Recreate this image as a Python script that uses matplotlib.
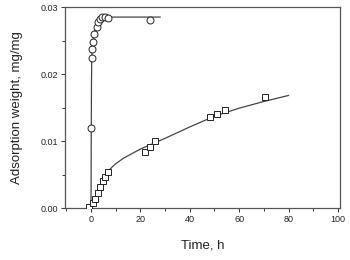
import matplotlib
matplotlib.use("Agg")
import matplotlib.pyplot as plt
from matplotlib.ticker import MultipleLocator

plt.rcParams['font.family'] = ['Liberation Sans', 'DejaVu Sans']

# Circle series (fast adsorption)
circ_t = [0.0, 0.3, 0.5, 0.9, 1.3, 2.3, 3.0, 3.6, 4.6, 5.7, 7.0, 23.9]
circ_q = [0.0120, 0.0224, 0.0238, 0.0248, 0.0259, 0.0270, 0.0277, 0.0282, 0.0285, 0.0285, 0.0284, 0.0281]
# Fitted line for circles
circ_fit_t = [0.0, 0.05, 0.1, 0.2, 0.3, 0.6, 1.0, 1.5, 2.0, 3.0, 4.0, 5.0, 7.0, 10.0, 28.0]
circ_fit_q = [0.0, 0.0060, 0.0115, 0.0190, 0.0225, 0.0245, 0.0256, 0.0265, 0.0272, 0.0279, 0.0282, 0.0284, 0.0285, 0.0285, 0.0285]

# Square series (slow adsorption)
sq_t = [-0.7, 0.7, 1.6, 2.7, 3.6, 4.7, 5.7, 6.8, 21.9, 23.9, 25.9, 48.2, 51.1, 54.3, 70.4]
sq_q = [0.0001, 0.0008, 0.0014, 0.0023, 0.0031, 0.0040, 0.0046, 0.0053, 0.0084, 0.0091, 0.0100, 0.0136, 0.0141, 0.0146, 0.0165]
# Fitted line for squares
sq_fit_t = [0.0, 1.0, 2.0, 3.0, 4.0, 5.0, 6.0, 7.0, 8.5, 10.0, 13.0, 16.0, 20.0, 25.0, 30.0, 40.0, 50.0, 60.0, 70.0, 80.0]
sq_fit_q = [0.0, 0.0010, 0.0019, 0.0028, 0.0036, 0.0043, 0.0050, 0.0055, 0.0061, 0.0066, 0.0074, 0.0080, 0.0088, 0.0096, 0.0104, 0.0121, 0.0137, 0.0149, 0.0159, 0.0168]

fig = plt.figure(figsize=(3.5, 2.6), dpi=100)
ax = fig.add_axes([0.186, 0.2, 0.785, 0.773])

lc = '#444444'
ax.plot(circ_fit_t, circ_fit_q, color=lc, lw=0.9, zorder=2)
ax.plot(sq_fit_t, sq_fit_q, color=lc, lw=0.9, zorder=2)
ax.plot(circ_t, circ_q, ls='none', marker='o', ms=5, mfc='white', mec='#222222', mew=0.7, zorder=3)
ax.plot(sq_t, sq_q, ls='none', marker='s', ms=5, mfc='white', mec='#222222', mew=0.7, zorder=3)

ax.set_xlim(-10.5, 100.8)
ax.set_ylim(0, 0.03)
ax.xaxis.set_major_locator(MultipleLocator(20))
ax.xaxis.set_minor_locator(MultipleLocator(10))
ax.yaxis.set_major_locator(MultipleLocator(0.01))
ax.yaxis.set_minor_locator(MultipleLocator(0.005))
ax.yaxis.set_major_formatter(matplotlib.ticker.FormatStrFormatter('%.2f'))

for s in ax.spines.values():
    s.set_color('#555555')
    s.set_linewidth(0.9)
ax.tick_params(which='both', direction='out', color='#333333', width=0.7,
               labelsize=6.5, labelcolor='#222222', top=False, right=False)
ax.tick_params(which='major', length=3, pad=2)
ax.tick_params(which='minor', length=2)

ax.set_xlabel('Time, h', fontsize=9.5, color='#222222', labelpad=11)
ax.set_ylabel('Adsorption weight, mg/mg', fontsize=9.5, color='#222222', labelpad=13)

fig.savefig('out.png', dpi=100)
